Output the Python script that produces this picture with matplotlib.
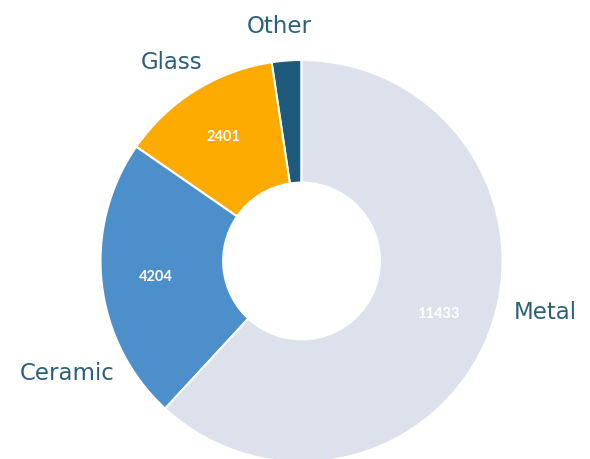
import matplotlib
matplotlib.use("Agg")
import matplotlib.pyplot as plt

# Material counts, drawn counterclockwise from 12 o'clock
materials = ["Other", "Glass", "Ceramic", "Metal"]
counts = [440, 2401, 4204, 11433]
colors = ["#1e5a7c", "#fdab00", "#4d8fcb", "#dce1eb"]

# Outside category label positions (data units, pie radius = 1)
label_pos = [(-0.11, 1.165), (-0.645, 0.99), (-1.165, -0.56), (1.21, -0.255)]

total = sum(counts)


def value_label(pct):
    v = int(round(pct * total / 100.0))
    return "" if pct < 5 else str(v)


fig = plt.figure(figsize=(5.9, 4.59), dpi=100)
ax = fig.add_axes([0, 0, 1, 1])

wedges, texts, autotexts = ax.pie(
    counts, colors=colors, startangle=90, counterclock=True,
    autopct=value_label, pctdistance=0.73,
    wedgeprops=dict(width=0.61, edgecolor="white", linewidth=1.5),
)
for t in autotexts:
    t.set_color("white")
    t.set_fontsize(10.5)
    t.set_fontweight("bold")
    t.set_family("Lato")

for name, (x, y) in zip(materials, label_pos):
    ax.text(x, y, name, ha="center", va="center", fontsize=16.5,
            color="#2b6078", family="DejaVu Sans")

ax.set_xlim(-1.5, 1.435)
ax.set_ylim(-0.985, 1.2985)
ax.set_aspect("equal")
ax.axis("off")

fig.savefig("out.png", dpi=100)
